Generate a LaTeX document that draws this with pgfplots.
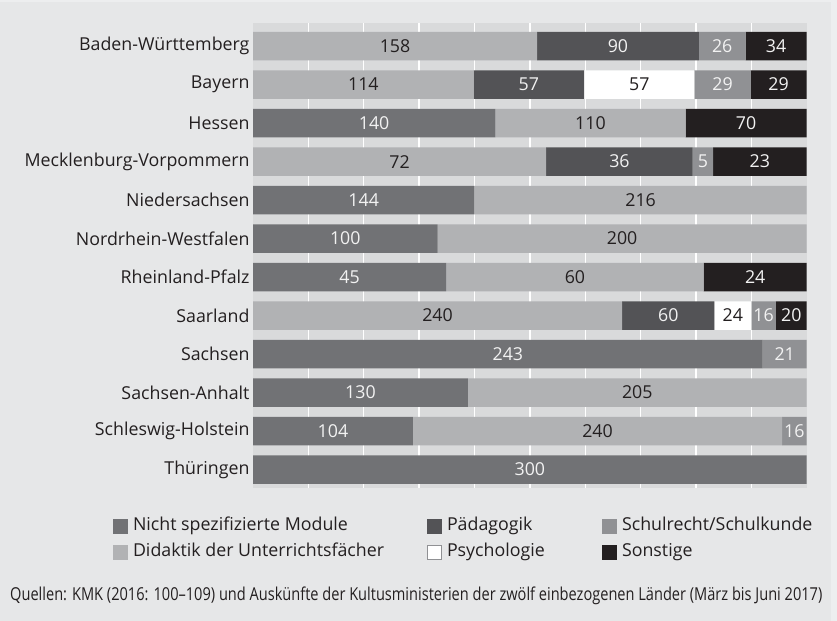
\documentclass[border=0pt]{standalone}
\usepackage{pgfplots}
\pgfplotsset{compat=1.18}
\usepackage{fontspec}
\setmainfont{Open Sans}
\definecolor{edgebg}{HTML}{EDEEEF}
\definecolor{outerbg}{HTML}{E6E7E8}
\definecolor{plotbg}{HTML}{D9DADB}
\definecolor{cA}{HTML}{717275}
\definecolor{cB}{HTML}{B1B2B4}
\definecolor{cC}{HTML}{535356}
\definecolor{cD}{HTML}{FFFFFF}
\definecolor{cE}{HTML}{909194}
\definecolor{cF}{HTML}{231F20}
\definecolor{txt}{HTML}{231F20}
\definecolor{lbl}{HTML}{F2F2F2}
\newcommand{\lf}{\fontsize{17.8bp}{20bp}\selectfont}
\pgfplotsset{base/.style={
  at={(253bp,133bp)}, anchor=south west,
  scale only axis, width=553.7bp, height=465bp,
  xmin=0, xmax=100, ymin=-0.6, ymax=11.48, y dir=reverse}}
\begin{document}
\begin{tikzpicture}[x=1bp,y=1bp]
\fill[edgebg] (0,0) rectangle (837,621);
\fill[outerbg] (0,0) rectangle (831,619);
\begin{axis}[base,
  xbar stacked, bar width=0.74,
  xtick={10,20,...,90}, xticklabels={},
  xmajorgrids, grid style={white, line width=1.3bp},
  ytick={0,...,11},
  yticklabels={Baden-Württemberg,Bayern,Hessen,Mecklenburg-Vorpommern,Niedersachsen,Nordrhein-Westfalen,Rheinland-Pfalz,Saarland,Sachsen,Sachsen-Anhalt,Schleswig-Holstein,Thüringen},
  major tick length=0pt,
  axis line style={draw=none},
  axis background/.style={fill=plotbg},
  yticklabel style={font=\lf, text=txt},
  legend columns=2, transpose legend,
  legend cell align=left,
  legend style={at={(rel axis cs:-0.2528,-0.064)}, anchor=north west, draw=none, fill=none,
    inner sep=0pt, outer sep=0pt, font=\lf, text=txt,
    nodes={inner sep=0pt, text height=13bp, text depth=4bp},
    row sep=9bp,
    /tikz/every odd column/.append style={column sep=5bp}},
  legend image code/.code={\fill (0bp,-7.5bp) rectangle (15bp,7.5bp);},
]
% Nicht spezifizierte Module
\addplot[fill=cA, draw=none] table[x=pct,y=y] {
y pct
0 0
1 0
2 43.75
3 0
4 40
5 33.3333
6 34.8837
7 0
8 92.0455
9 38.8060
10 28.8889
11 100
};
\addlegendentry{\makebox[294bp][l]{Nicht spezifizierte Module}}
% Didaktik der Unterrichtsfaecher
\addplot[fill=cB, draw=none] table[x=pct,y=y] {
y pct
0 51.2987
1 39.8601
2 34.375
3 52.9412
4 60
5 66.6667
6 46.5116
7 66.6667
8 0
9 61.1940
10 66.6667
11 0
};
\addlegendentry{\makebox[294bp][l]{Didaktik der Unterrichtsfächer}}
% Paedagogik
\addplot[fill=cC, draw=none] table[x=pct,y=y] {
y pct
0 29.2208
1 19.9301
2 0
3 26.4706
4 0
5 0
6 0
7 16.6667
8 0
9 0
10 0
11 0
};
\addlegendentry{\makebox[155bp][l]{Pädagogik}}
% Psychologie
\addplot[fill=cD, draw=none,
  legend image code/.code={\filldraw[fill=white, draw=cE, line width=0.8bp] (0.4bp,-7.1bp) rectangle (14.6bp,7.1bp);}] table[x=pct,y=y] {
y pct
0 0
1 19.9301
2 0
3 0
4 0
5 0
6 0
7 6.6667
8 0
9 0
10 0
11 0
};
\addlegendentry{\makebox[155bp][l]{Psychologie}}
% Schulrecht/Schulkunde
\addplot[fill=cE, draw=none] table[x=pct,y=y] {
y pct
0 8.4416
1 10.1399
2 0
3 3.6765
4 0
5 0
6 0
7 4.4444
8 7.9545
9 0
10 4.4444
11 0
};
\addlegendentry{Schulrecht/Schulkunde}
% Sonstige
\addplot[fill=cF, draw=none] table[x=pct,y=y] {
y pct
0 11.0390
1 10.1399
2 21.875
3 16.9118
4 0
5 0
6 18.6047
7 5.5556
8 0
9 0
10 0
11 0
};
\addlegendentry{Sonstige}
\end{axis}
% value labels (segment centres, raw counts)
\begin{axis}[base, hide axis, point meta=explicit symbolic,
  nodes near coords, nodes near coords align={center},
  every node near coord/.append style={font=\lf, anchor=center, inner sep=0pt}]
% labels on light segments (dark text)
\addplot[only marks, mark=none, every node near coord/.append style={text=txt}] table[x=x,y=y,meta=lab] {
x y lab
25.649 0 158
19.930 1 114
69.755 1 57
60.9375 2 110
26.4706 3 72
70 4 216
66.6667 5 200
58.1395 6 60
33.3333 7 240
86.6667 7 24
69.403 9 205
62.2222 10 240
};
% labels on dark segments (light text)
\addplot[only marks, mark=none, every node near coord/.append style={text=lbl}] table[x=x,y=y,meta=lab] {
x y lab
65.909 0 90
84.740 0 26
94.481 0 34
49.825 1 57
84.790 1 29
94.930 1 29
21.875 2 140
89.0625 2 70
66.1765 3 36
81.25 3 5
91.544 3 23
20 4 144
16.6667 5 100
17.4419 6 45
90.6977 6 24
75 7 60
92.2222 7 16
97.2222 7 20
46.0227 8 243
96.0227 8 21
19.403 9 130
14.4444 10 104
97.7778 10 16
50 11 300
};
\end{axis}
\node[anchor=base west, inner sep=0pt, text=txt, font=\lf] at (10,20)
  {\resizebox{812bp}{\height}{Quellen: KMK (2016: 100–109) und Auskünfte der Kultusministerien der zwölf einbezogenen Länder (März bis Juni 2017)}};
\end{tikzpicture}
\end{document}
